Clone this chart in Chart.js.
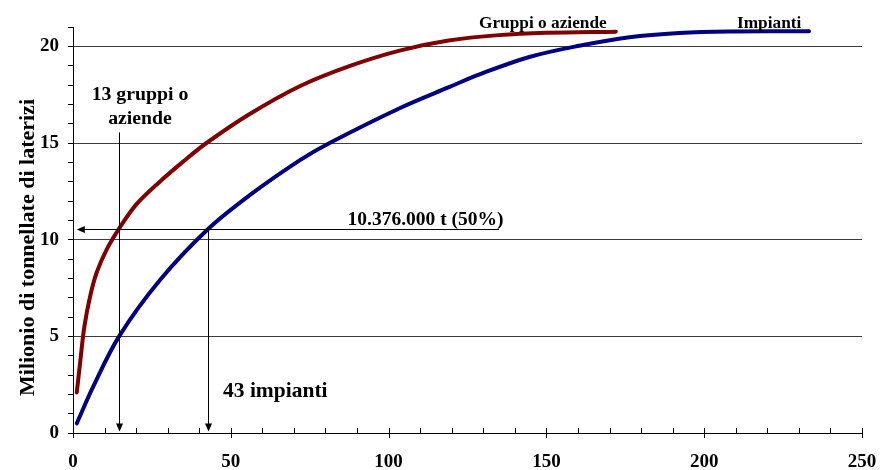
<!DOCTYPE html>
<html>
<head>
<meta charset="utf-8">
<script src="https://cdn.jsdelivr.net/npm/chart.js@4.4.1/dist/chart.umd.min.js"></script>
<style>
  html, body { margin: 0; padding: 0; background: #fff; }
  #wrap { width: 880px; height: 470px; }
</style>
</head>
<body>
<div id="wrap"><canvas id="curveChart" width="880" height="470"></canvas></div>
<script>
// cumulative production (million t) vs number of groups / plants
var gruppiX = [1.2, 2.3, 3.6, 5.4, 7.5, 10.7, 14.7, 20.2, 27.5, 35, 42.3, 56, 72, 88, 103.5, 119, 135, 150, 172];
var gruppiY = [2.1, 3.7, 5.5, 7.05, 8.3, 9.5, 10.6, 11.85, 13.0, 14.05, 15.0, 16.5, 17.95, 19.0, 19.78, 20.3, 20.58, 20.7, 20.76];

var impiantiX = [1.2, 6.4, 14.6, 27.5, 42.8, 56, 71.8, 81.3, 103.5, 119.3, 128.8, 144.6, 160.4, 176.3, 192.1, 207.9, 233.2];
var impiantiY = [0.5, 2.4, 5.0, 7.9, 10.55, 12.3, 14.1, 15.0, 16.8, 17.9, 18.55, 19.45, 20.03, 20.47, 20.69, 20.77, 20.78];

var xTickLabels = [0, 50, 100, 150, 200, 250];
var yTickLabels = [0, 5, 10, 15, 20];

// 50% marker as drawn, and where it meets each curve
var halfLevel = 10.55;
var gruppiAt = 14.6;
var impiantiAt = 42.8;

var serif = '"Liberation Serif", "Times New Roman", serif';

function toPoints(xs, ys) {
    var pts = [];
    for (var i = 0; i < xs.length; i++) {
        pts.push({x: xs[i], y: ys[i]});
    }
    return pts;
}

function arrowHead(ctx, x, y, dir) {
    ctx.beginPath();
    if (dir === 'down') {
        ctx.moveTo(x, y);
        ctx.lineTo(x - 3.5, y - 8);
        ctx.lineTo(x + 3.5, y - 8);
    } else {
        ctx.moveTo(x, y);
        ctx.lineTo(x + 8, y - 3.5);
        ctx.lineTo(x + 8, y + 3.5);
    }
    ctx.closePath();
    ctx.fill();
}

var extrasPlugin = {
    id: 'extras',
    afterDraw: function(chart) {
        var ctx = chart.ctx;
        var xs = chart.scales.x;
        var ys = chart.scales.y;
        var bottom = ys.getPixelForValue(0);
        ctx.save();
        ctx.strokeStyle = '#000';
        ctx.fillStyle = '#000';
        ctx.lineWidth = 1;

        // x axis tick marks: minor inside, major across
        for (var v = 0; v <= 250; v += 10) {
            var px = Math.round(xs.getPixelForValue(v)) + 0.5;
            var major = xTickLabels.indexOf(v) >= 0;
            ctx.beginPath();
            ctx.moveTo(px, bottom - 5);
            ctx.lineTo(px, major ? bottom + 5 : bottom);
            ctx.stroke();
        }

        var hy = Math.round(ys.getPixelForValue(halfLevel)) + 0.5;
        var x1 = Math.round(xs.getPixelForValue(gruppiAt)) + 0.5;
        var x2 = Math.round(xs.getPixelForValue(impiantiAt)) + 0.5;

        // horizontal 50% arrow
        ctx.beginPath();
        ctx.moveTo(xs.getPixelForValue(135), hy);
        ctx.lineTo(xs.getPixelForValue(1.2) + 6, hy);
        ctx.stroke();
        arrowHead(ctx, xs.getPixelForValue(1.2), hy, 'left');

        // vertical arrows
        ctx.beginPath();
        ctx.moveTo(x1, ys.getPixelForValue(15.55));
        ctx.lineTo(x1, bottom - 6);
        ctx.moveTo(x2, hy);
        ctx.lineTo(x2, bottom - 6);
        ctx.stroke();
        arrowHead(ctx, x1, bottom - 1.5, 'down');
        arrowHead(ctx, x2, bottom - 1.5, 'down');

        // annotation texts
        ctx.textBaseline = 'alphabetic';
        ctx.font = 'bold 19.8px ' + serif;
        ctx.textAlign = 'center';
        ctx.fillText('13 gruppi o', 140, 100);
        ctx.fillText('aziende', 140, 124);
        ctx.textAlign = 'left';
        ctx.font = 'bold 19.5px ' + serif;
        ctx.fillText('10.376.000 t (50%)', 347.5, 224.5);
        ctx.font = 'bold 21.5px ' + serif;
        ctx.fillText('43 impianti', 223, 396.5);
        ctx.font = 'bold 17.3px ' + serif;
        ctx.fillText('Gruppi o aziende', 479, 28);
        ctx.fillText('Impianti', 737, 28);

        // y axis title
        ctx.translate(28, 247.5);
        ctx.rotate(-Math.PI / 2);
        ctx.textAlign = 'center';
        ctx.textBaseline = 'middle';
        ctx.font = 'bold 22px ' + serif;
        ctx.fillText('Milionio di tonnellate di laterizi', 0, 0);
        ctx.restore();
    }
};

var chartCanvas = document.getElementById('curveChart').getContext('2d');
var curveChart = new Chart(chartCanvas, {
    type: 'scatter',
    data: {
        datasets: [
            {
                label: 'Gruppi o aziende',
                data: toPoints(gruppiX, gruppiY),
                showLine: true,
                borderColor: '#800000',
                borderWidth: 4,
                borderCapStyle: 'round',
                pointRadius: 0,
                tension: 0.35
            },
            {
                label: 'Impianti',
                data: toPoints(impiantiX, impiantiY),
                showLine: true,
                borderColor: '#000080',
                borderWidth: 4,
                borderCapStyle: 'round',
                pointRadius: 0,
                tension: 0.35
            }
        ]
    },
    options: {
        responsive: false,
        animation: false,
        devicePixelRatio: 1,
        layout: { padding: { top: 27, right: 18, left: 0, bottom: 0 } },
        plugins: {
            legend: { display: false },
            tooltip: { enabled: false }
        },
        scales: {
            x: {
                type: 'linear',
                min: 0,
                max: 250,
                afterFit: function(scale) {
                    scale.height = 37;
                    scale.paddingLeft = 0;
                    scale.paddingRight = 0;
                },
                border: { display: true, color: '#000', width: 1 },
                grid: { display: false, drawTicks: false, drawOnChartArea: false },
                ticks: {
                    stepSize: 50,
                    padding: 18,
                    color: '#000',
                    font: { family: serif, size: 19, weight: 'bold' },
                    callback: function(value) {
                        return xTickLabels.indexOf(value) >= 0 ? value : '';
                    }
                }
            },
            y: {
                type: 'linear',
                min: 0,
                max: 21,
                afterFit: function(scale) {
                    scale.width = 73;
                    scale.paddingTop = 0;
                    scale.paddingBottom = 0;
                },
                border: { display: true, color: '#000', width: 1 },
                grid: {
                    tickLength: 5,
                    tickColor: '#000',
                    color: function(c) {
                        var v = c.tick ? c.tick.value : -1;
                        return (v > 0 && yTickLabels.indexOf(v) >= 0) ? '#3c3c3c' : 'rgba(0,0,0,0)';
                    }
                },
                ticks: {
                    stepSize: 1,
                    autoSkip: false,
                    padding: 9,
                    color: '#000',
                    font: { family: serif, size: 19, weight: 'bold' },
                    callback: function(value) {
                        return yTickLabels.indexOf(value) >= 0 ? value : '';
                    }
                }
            }
        }
    },
    plugins: [extrasPlugin]
});
</script>
</body>
</html>
